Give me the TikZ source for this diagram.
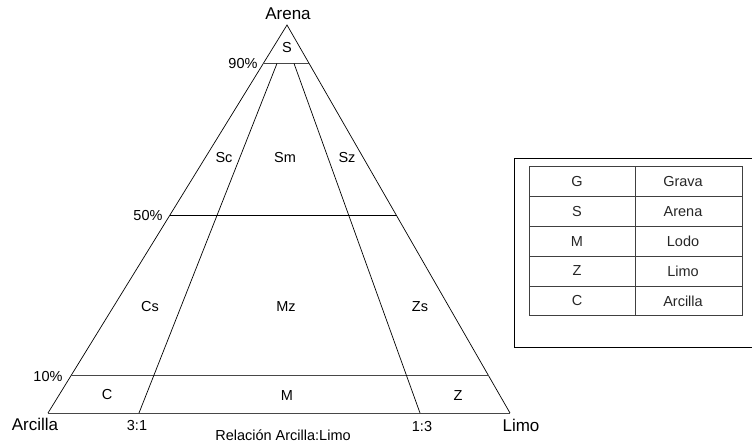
\documentclass[tikz,border=0pt]{standalone}
\usepackage{fontspec}
\setmainfont{Liberation Sans}
\usetikzlibrary{calc}
\begin{document}
\begin{tikzpicture}[x=1pt,y=-1pt,
  side/.style={line width=0.7pt,black},
  level/.style={line width=0.9pt,black!72},
  ratio/.style={line width=0.7pt,black},
  corner/.style={inner sep=0pt,font=\fontsize{17}{20}\selectfont},
  tag/.style={inner sep=0pt,font=\fontsize{14.5}{17}\selectfont},
  cell/.style={inner sep=0pt,font=\fontsize{14.5}{17}\selectfont,text=black!85},
  grid/.style={line width=0.7pt,black!75}]
\useasboundingbox (0,0) rectangle (752,445);

% triangle vertices
\coordinate (A) at (287,25);
\coordinate (BL) at (48,413);
\coordinate (BR) at (510,413);

% sand levels 90%, 50%, 10%
\coordinate (l90) at ($(A)!0.099!(BL)$);
\coordinate (r90) at ($(A)!0.099!(BR)$);
\coordinate (l50) at ($(A)!0.49!(BL)$);
\coordinate (r50) at ($(A)!0.49!(BR)$);
\coordinate (l10) at ($(A)!0.904!(BL)$);
\coordinate (r10) at ($(A)!0.904!(BR)$);

% clay:silt ratio lines
\coordinate (t31) at (277,63.4);
\coordinate (b31) at (139,413);
\coordinate (t13) at (294,63.4);
\coordinate (b13) at (420,413);

\draw[side] (BL) -- (A) -- (BR);
\draw[level] (BL) -- (BR);
\draw[level] (l90) -- (r90);
\draw[side] (l50) -- (r50);
\draw[level] (l10) -- (r10);
\draw[ratio] (t31) -- (b31);
\draw[ratio] (t13) -- (b13);

% corner and axis labels
\node[corner] (arena) at (288,14) {Arena};
\node[corner] (arcilla) at (35,424) {Arcilla};
\node[corner] (limo) at (521,425) {Limo};
\node[tag] (p90) at (243,64) {90\%};
\node[tag] (p50) at (148,216) {50\%};
\node[tag] (p10) at (48,377) {10\%};
\node[tag] (r31) at (137,425) {3:1};
\node[tag] (r13) at (422,426) {1:3};
\node[tag] (rel) at (283,435) {Relación Arcilla:Limo};

% class fields
\node[tag] (S) at (287,48) {S};
\node[tag] (Sc) at (224,158) {Sc};
\node[tag] (Sm) at (285,158) {Sm};
\node[tag] (Sz) at (347,158) {Sz};
\node[tag] (Cs) at (150,307) {Cs};
\node[tag] (Mz) at (286,307) {Mz};
\node[tag] (Zs) at (420,307) {Zs};
\node[tag] (C) at (107,395) {C};
\node[tag] (M) at (287,396) {M};
\node[tag] (Z) at (458,396) {Z};

% legend frame
\draw[line width=0.8pt] (753,158) -- (514,158) -- (514,347.5) -- (753,347.5);

% legend table
\draw[grid] (529,166.7) rectangle (742,315.7);
\draw[grid] (635,166.7) -- (635,315.7);
\foreach \y in {196.7,226.7,256,286} \draw[grid] (529,\y) -- (742,\y);
\node[cell] (kG) at (577,182) {G};
\node[cell] (vG) at (683,182) {Grava};
\node[cell] (kS) at (577,211.5) {S};
\node[cell] (vS) at (683,211.5) {Arena};
\node[cell] (kM) at (577,241.3) {M};
\node[cell] (vM) at (683,241.3) {Lodo};
\node[cell] (kZ) at (577,271) {Z};
\node[cell] (vZ) at (683,271) {Limo};
\node[cell] (kC) at (577,301) {C};
\node[cell] (vC) at (683,301) {Arcilla};
\end{tikzpicture}
\end{document}
